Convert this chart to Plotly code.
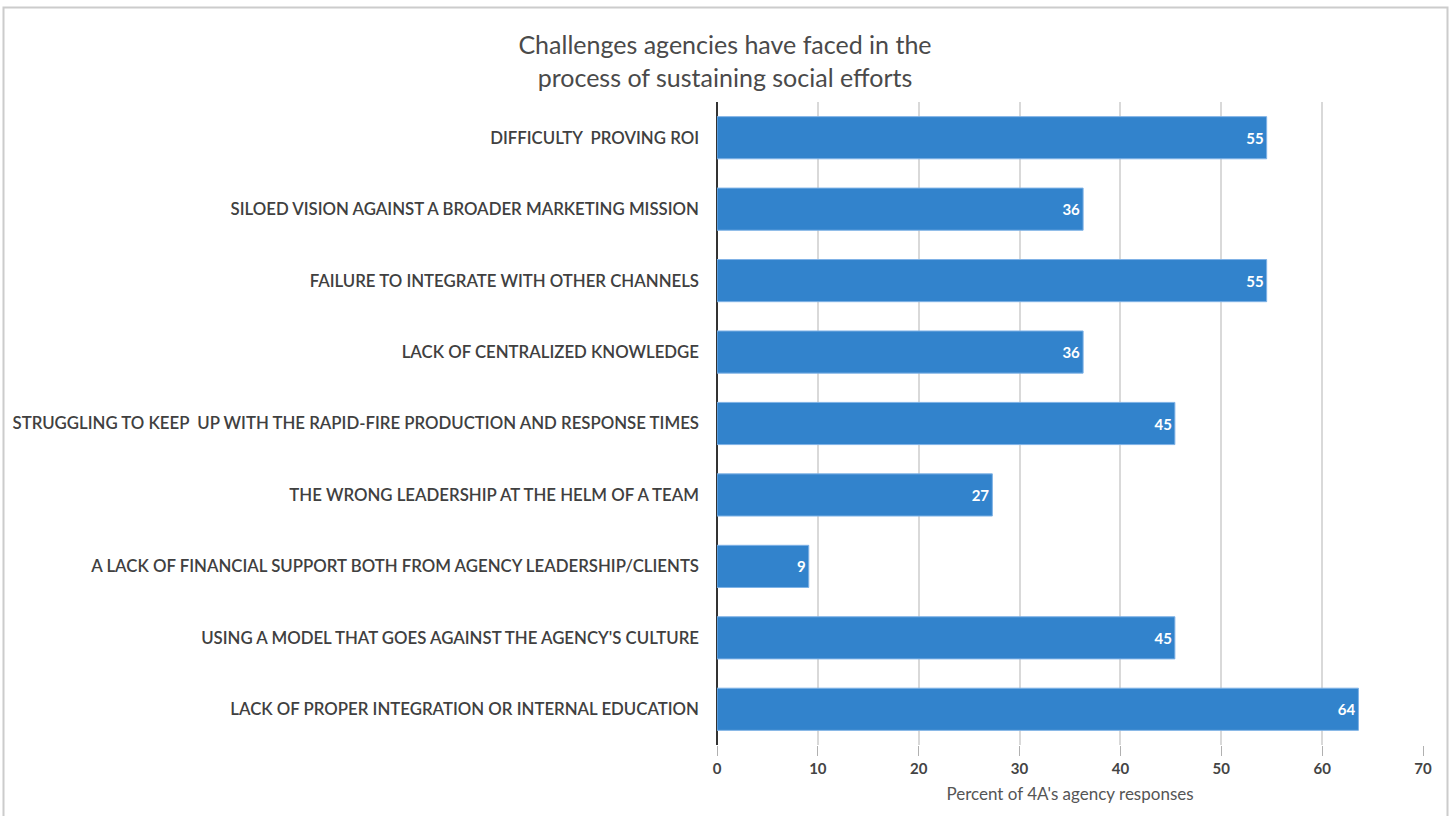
import plotly.graph_objects as go

categories = [
    "DIFFICULTY  PROVING ROI",
    "SILOED VISION AGAINST A BROADER MARKETING MISSION",
    "FAILURE TO INTEGRATE WITH OTHER CHANNELS",
    "LACK OF CENTRALIZED KNOWLEDGE",
    "STRUGGLING TO KEEP  UP WITH THE RAPID-FIRE PRODUCTION AND RESPONSE TIMES",
    "THE WRONG LEADERSHIP AT THE HELM OF A TEAM",
    "A LACK OF FINANCIAL SUPPORT BOTH FROM AGENCY LEADERSHIP/CLIENTS",
    "USING A MODEL THAT GOES AGAINST THE AGENCY'S CULTURE",
    "LACK OF PROPER INTEGRATION OR INTERNAL EDUCATION",
]
values = [54.5, 36.3, 54.5, 36.3, 45.4, 27.3, 9.1, 45.4, 63.6]
labels = ["55", "36", "55", "36", "45", "27", "9", "45", "64"]
x_ticks = [0, 10, 20, 30, 40, 50, 60, 70]

W, H = 1453, 816
L, R, T, B = 717, 30, 102, 71
pw, ph = W - L - R, H - T - B

def px_x(p):
    return (p - L) / pw

def px_y(p):
    return (H - B - p) / ph

fig = go.Figure(go.Bar(
    x=values, y=categories, orientation="h",
    marker=dict(color="#3283cc", line=dict(color="#7fb2e6", width=1)),
    width=0.59,
    text=labels, textposition="inside", insidetextanchor="end",
    textfont=dict(family="Lato", size=15, color="white", weight=700),
    cliponaxis=False,
))

fig.update_layout(
    width=W, height=H,
    margin=dict(l=L, r=R, t=T, b=B),
    paper_bgcolor="white", plot_bgcolor="white",
    showlegend=False,
    title=dict(
        text="Challenges agencies have faced in the<br>process of sustaining social efforts",
        x=725 / W, xanchor="center", xref="container",
        y=1 - 54 / H, yanchor="middle",
        font=dict(family="Lato", size=25, color="#4a4a4a", weight=400),
    ),
    xaxis=dict(
        range=[0, 70], tickvals=x_ticks, ticktext=[str(t) for t in x_ticks],
        showgrid=True, gridcolor="#d9d9d9", gridwidth=1.5,
        ticks="outside", ticklen=10, tickcolor="#b0b0b0", tickwidth=1,
        zeroline=True, zerolinecolor="#333333", zerolinewidth=2,
        tickfont=dict(family="Lato", size=15, color="#444444", weight=700),
        title=dict(text="Percent of 4A's agency responses", standoff=12,
                   font=dict(family="Lato", size=17, color="#555555", weight=400)),
        fixedrange=True,
    ),
    yaxis=dict(
        autorange="reversed", showgrid=False, ticks="",
        ticklabelstandoff=17,
        tickfont=dict(family="Lato", size=16.8, color="#404040", weight=600),
        fixedrange=True,
    ),
    shapes=[dict(
        type="rect", xref="paper", yref="paper",
        x0=px_x(3.5), x1=px_x(1447.5), y0=px_y(830), y1=px_y(7.5),
        line=dict(color="#cccccc", width=2), fillcolor="rgba(0,0,0,0)",
        layer="below",
    )],
)

fig.write_html(
    "out.html",
    config={"displayModeBar": False},
    post_script="document.body.style.margin='0';document.body.style.overflow='hidden';",
)
